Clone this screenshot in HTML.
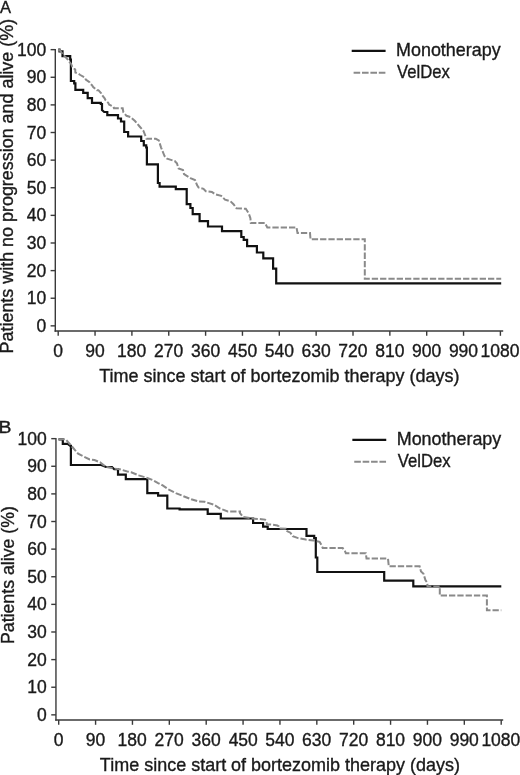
<!DOCTYPE html>
<html><head><meta charset="utf-8"><style>
html,body{margin:0;padding:0;background:#fff;}
svg{display:block;will-change:transform;filter:blur(0.35px);}
text{font-family:"Liberation Sans", sans-serif;stroke:#1a1a1a;stroke-width:0.35px;}
</style></head><body>
<svg width="520" height="775" viewBox="0 0 520 775">
<rect width="520" height="775" fill="#fff"/>
<line x1="55.30" y1="48.95" x2="55.30" y2="331.70" stroke="#3a3a3a" stroke-width="1.4"/>
<line x1="54.60" y1="331.00" x2="503.20" y2="331.00" stroke="#3a3a3a" stroke-width="1.4"/>
<line x1="50.60" y1="325.85" x2="55.30" y2="325.85" stroke="#3a3a3a" stroke-width="1.4"/>
<text x="36.40" y="331.95" font-size="17.5" textLength="9.73" lengthAdjust="spacingAndGlyphs" fill="#1a1a1a" >0</text>
<line x1="50.60" y1="298.23" x2="55.30" y2="298.23" stroke="#3a3a3a" stroke-width="1.4"/>
<text x="26.69" y="304.33" font-size="17.5" textLength="19.47" lengthAdjust="spacingAndGlyphs" fill="#1a1a1a" >10</text>
<line x1="50.60" y1="270.61" x2="55.30" y2="270.61" stroke="#3a3a3a" stroke-width="1.4"/>
<text x="26.69" y="276.71" font-size="17.5" textLength="19.47" lengthAdjust="spacingAndGlyphs" fill="#1a1a1a" >20</text>
<line x1="50.60" y1="242.99" x2="55.30" y2="242.99" stroke="#3a3a3a" stroke-width="1.4"/>
<text x="26.69" y="249.09" font-size="17.5" textLength="19.47" lengthAdjust="spacingAndGlyphs" fill="#1a1a1a" >30</text>
<line x1="50.60" y1="215.37" x2="55.30" y2="215.37" stroke="#3a3a3a" stroke-width="1.4"/>
<text x="26.69" y="221.47" font-size="17.5" textLength="19.47" lengthAdjust="spacingAndGlyphs" fill="#1a1a1a" >40</text>
<line x1="50.60" y1="187.75" x2="55.30" y2="187.75" stroke="#3a3a3a" stroke-width="1.4"/>
<text x="26.69" y="193.85" font-size="17.5" textLength="19.47" lengthAdjust="spacingAndGlyphs" fill="#1a1a1a" >50</text>
<line x1="50.60" y1="160.13" x2="55.30" y2="160.13" stroke="#3a3a3a" stroke-width="1.4"/>
<text x="26.69" y="166.23" font-size="17.5" textLength="19.47" lengthAdjust="spacingAndGlyphs" fill="#1a1a1a" >60</text>
<line x1="50.60" y1="132.51" x2="55.30" y2="132.51" stroke="#3a3a3a" stroke-width="1.4"/>
<text x="26.69" y="138.61" font-size="17.5" textLength="19.47" lengthAdjust="spacingAndGlyphs" fill="#1a1a1a" >70</text>
<line x1="50.60" y1="104.89" x2="55.30" y2="104.89" stroke="#3a3a3a" stroke-width="1.4"/>
<text x="26.69" y="110.99" font-size="17.5" textLength="19.47" lengthAdjust="spacingAndGlyphs" fill="#1a1a1a" >80</text>
<line x1="50.60" y1="77.27" x2="55.30" y2="77.27" stroke="#3a3a3a" stroke-width="1.4"/>
<text x="26.69" y="83.37" font-size="17.5" textLength="19.47" lengthAdjust="spacingAndGlyphs" fill="#1a1a1a" >90</text>
<line x1="50.60" y1="49.65" x2="55.30" y2="49.65" stroke="#3a3a3a" stroke-width="1.4"/>
<text x="16.98" y="55.75" font-size="17.5" textLength="29.20" lengthAdjust="spacingAndGlyphs" fill="#1a1a1a" >100</text>
<line x1="58.20" y1="331.00" x2="58.20" y2="335.80" stroke="#3a3a3a" stroke-width="1.4"/>
<text x="53.30" y="356.50" font-size="17.5" textLength="9.73" lengthAdjust="spacingAndGlyphs" fill="#1a1a1a" >0</text>
<line x1="95.05" y1="331.00" x2="95.05" y2="335.80" stroke="#3a3a3a" stroke-width="1.4"/>
<text x="85.25" y="356.50" font-size="17.5" textLength="19.47" lengthAdjust="spacingAndGlyphs" fill="#1a1a1a" >90</text>
<line x1="131.90" y1="331.00" x2="131.90" y2="335.80" stroke="#3a3a3a" stroke-width="1.4"/>
<text x="116.98" y="356.50" font-size="17.5" textLength="29.20" lengthAdjust="spacingAndGlyphs" fill="#1a1a1a" >180</text>
<line x1="168.75" y1="331.00" x2="168.75" y2="335.80" stroke="#3a3a3a" stroke-width="1.4"/>
<text x="154.05" y="356.50" font-size="17.5" textLength="29.20" lengthAdjust="spacingAndGlyphs" fill="#1a1a1a" >270</text>
<line x1="205.60" y1="331.00" x2="205.60" y2="335.80" stroke="#3a3a3a" stroke-width="1.4"/>
<text x="190.99" y="356.50" font-size="17.5" textLength="29.20" lengthAdjust="spacingAndGlyphs" fill="#1a1a1a" >360</text>
<line x1="242.45" y1="331.00" x2="242.45" y2="335.80" stroke="#3a3a3a" stroke-width="1.4"/>
<text x="228.01" y="356.50" font-size="17.5" textLength="29.20" lengthAdjust="spacingAndGlyphs" fill="#1a1a1a" >450</text>
<line x1="279.30" y1="331.00" x2="279.30" y2="335.80" stroke="#3a3a3a" stroke-width="1.4"/>
<text x="264.69" y="356.50" font-size="17.5" textLength="29.20" lengthAdjust="spacingAndGlyphs" fill="#1a1a1a" >540</text>
<line x1="316.15" y1="331.00" x2="316.15" y2="335.80" stroke="#3a3a3a" stroke-width="1.4"/>
<text x="301.45" y="356.50" font-size="17.5" textLength="29.20" lengthAdjust="spacingAndGlyphs" fill="#1a1a1a" >630</text>
<line x1="353.00" y1="331.00" x2="353.00" y2="335.80" stroke="#3a3a3a" stroke-width="1.4"/>
<text x="338.30" y="356.50" font-size="17.5" textLength="29.20" lengthAdjust="spacingAndGlyphs" fill="#1a1a1a" >720</text>
<line x1="389.85" y1="331.00" x2="389.85" y2="335.80" stroke="#3a3a3a" stroke-width="1.4"/>
<text x="375.19" y="356.50" font-size="17.5" textLength="29.20" lengthAdjust="spacingAndGlyphs" fill="#1a1a1a" >810</text>
<line x1="426.70" y1="331.00" x2="426.70" y2="335.80" stroke="#3a3a3a" stroke-width="1.4"/>
<text x="412.04" y="356.50" font-size="17.5" textLength="29.20" lengthAdjust="spacingAndGlyphs" fill="#1a1a1a" >900</text>
<line x1="463.55" y1="331.00" x2="463.55" y2="335.80" stroke="#3a3a3a" stroke-width="1.4"/>
<text x="448.89" y="356.50" font-size="17.5" textLength="29.20" lengthAdjust="spacingAndGlyphs" fill="#1a1a1a" >990</text>
<line x1="500.40" y1="331.00" x2="500.40" y2="335.80" stroke="#3a3a3a" stroke-width="1.4"/>
<text x="480.58" y="356.50" font-size="17.5" textLength="38.93" lengthAdjust="spacingAndGlyphs" fill="#1a1a1a" >1080</text>
<text x="99.24" y="382.20" font-size="17.9" textLength="360.16" lengthAdjust="spacingAndGlyphs" fill="#1a1a1a" >Time since start of bortezomib therapy (days)</text>
<text transform="translate(12.90,353.43) rotate(-90)" font-size="17.8" textLength="334.54" lengthAdjust="spacingAndGlyphs" fill="#1a1a1a">Patients with no progression and alive (%)</text>
<text x="0.00" y="12.60" font-size="17" textLength="11.03" lengthAdjust="spacingAndGlyphs" fill="#1a1a1a" >A</text>
<line x1="351.70" y1="50.80" x2="385.60" y2="50.80" stroke="#111" stroke-width="2.2"/>
<line x1="353.60" y1="72.70" x2="385.40" y2="72.70" stroke="#8a8a8a" stroke-width="2" stroke-dasharray="6.6 1.8"/>
<text x="396.07" y="56.00" font-size="17.9" textLength="104.57" lengthAdjust="spacingAndGlyphs" fill="#1a1a1a" >Monotherapy</text>
<text x="397.12" y="77.80" font-size="17.9" textLength="52.73" lengthAdjust="spacingAndGlyphs" fill="#1a1a1a" >VelDex</text>
<path d="M58.2,49.6 H59.5 V51.3 H62.5 V56.2 H70.2 V59.5 H70.9 V81 H74.2 V83.4 H75.4 V89.8 H83.2 V92.8 H87.7 V98.1 H92 V102.9 H100.8 V104 H102 V110 L104.2,112 H107.3 V115.2 H118 V118.5 H121 V121.5 H124.2 V132 H128.1 V136.5 H141.2 V141 H143.8 V145.4 H146.2 V147.5 H146.9 V164.4 H157.9 V183 H159.6 V186.7 H175.8 V189.2 H186.7 V204.2 H190.4 V208 H192.7 V214.2 H199.6 V221.2 H208 V226.5 H222 V231.2 H241.3 V237 H243.7 V239.8 H247.1 V246.1 H256.9 V252.5 H263.3 V258.3 H273.1 V268.6 H276.2 V283.3 H501.2" fill="none" stroke="#111" stroke-width="2.2" stroke-linejoin="miter"/>
<path d="M58.2,49.6 L59.8,50.3 L61.7,52.9 L63.9,55.6 L66,57.5 L68,59.8 L69.4,61.8 L71,63.7 L72.3,66.8 L74,68.5 L75.2,69.5 L75.4,72.6 L78.5,73.8 L80.3,75 L85.2,77.8 L85.8,79.7 L89.5,82.2 L90.2,83.7 L92,85.2 L93.2,87 L96.9,90.2 H98.4 L101.2,93.3 L101.8,94.8 L104.8,98.5 L105.2,99.8 L108.2,102.8 L109.2,104.7 L113.5,106.8 L114,108.3 H122.7 L123.3,112 L126.5,115.8 L130.4,117 L135,121 L139.6,126.5 L143.5,131 L146.5,138.8 H155.8 L158.8,140.4 L161,147.3 L164.5,156 L167.1,158.7 L174.6,161 L176.9,163.3 L178.6,168.5 L183,170 L184,174 L190.4,178.1 L195,180 L197,185 L198.5,187.5 L203.5,188.8 L205.8,191.2 L211.9,191.9 L215,194.2 L221.2,195.8 L225,199.6 L230.4,201.2 L233.5,204.2 L236.5,208.3 L245.8,208.8 L248.8,213.5 L250.4,218.1 L250.8,223.1 H265 L267.3,227.4 H296.5 L297.5,233 H310 L310.5,239.2 H364.8 V278.8 H501.2" fill="none" stroke="#8a8a8a" stroke-width="2" stroke-dasharray="6.3 2"/>
<line x1="55.95" y1="437.95" x2="55.95" y2="720.70" stroke="#3a3a3a" stroke-width="1.4"/>
<line x1="55.25" y1="720.00" x2="503.20" y2="720.00" stroke="#3a3a3a" stroke-width="1.4"/>
<line x1="51.25" y1="714.85" x2="55.95" y2="714.85" stroke="#3a3a3a" stroke-width="1.4"/>
<text x="37.05" y="720.95" font-size="17.5" textLength="9.73" lengthAdjust="spacingAndGlyphs" fill="#1a1a1a" >0</text>
<line x1="51.25" y1="687.23" x2="55.95" y2="687.23" stroke="#3a3a3a" stroke-width="1.4"/>
<text x="27.34" y="693.33" font-size="17.5" textLength="19.47" lengthAdjust="spacingAndGlyphs" fill="#1a1a1a" >10</text>
<line x1="51.25" y1="659.61" x2="55.95" y2="659.61" stroke="#3a3a3a" stroke-width="1.4"/>
<text x="27.34" y="665.71" font-size="17.5" textLength="19.47" lengthAdjust="spacingAndGlyphs" fill="#1a1a1a" >20</text>
<line x1="51.25" y1="631.99" x2="55.95" y2="631.99" stroke="#3a3a3a" stroke-width="1.4"/>
<text x="27.34" y="638.09" font-size="17.5" textLength="19.47" lengthAdjust="spacingAndGlyphs" fill="#1a1a1a" >30</text>
<line x1="51.25" y1="604.37" x2="55.95" y2="604.37" stroke="#3a3a3a" stroke-width="1.4"/>
<text x="27.34" y="610.47" font-size="17.5" textLength="19.47" lengthAdjust="spacingAndGlyphs" fill="#1a1a1a" >40</text>
<line x1="51.25" y1="576.75" x2="55.95" y2="576.75" stroke="#3a3a3a" stroke-width="1.4"/>
<text x="27.34" y="582.85" font-size="17.5" textLength="19.47" lengthAdjust="spacingAndGlyphs" fill="#1a1a1a" >50</text>
<line x1="51.25" y1="549.13" x2="55.95" y2="549.13" stroke="#3a3a3a" stroke-width="1.4"/>
<text x="27.34" y="555.23" font-size="17.5" textLength="19.47" lengthAdjust="spacingAndGlyphs" fill="#1a1a1a" >60</text>
<line x1="51.25" y1="521.51" x2="55.95" y2="521.51" stroke="#3a3a3a" stroke-width="1.4"/>
<text x="27.34" y="527.61" font-size="17.5" textLength="19.47" lengthAdjust="spacingAndGlyphs" fill="#1a1a1a" >70</text>
<line x1="51.25" y1="493.89" x2="55.95" y2="493.89" stroke="#3a3a3a" stroke-width="1.4"/>
<text x="27.34" y="499.99" font-size="17.5" textLength="19.47" lengthAdjust="spacingAndGlyphs" fill="#1a1a1a" >80</text>
<line x1="51.25" y1="466.27" x2="55.95" y2="466.27" stroke="#3a3a3a" stroke-width="1.4"/>
<text x="27.34" y="472.37" font-size="17.5" textLength="19.47" lengthAdjust="spacingAndGlyphs" fill="#1a1a1a" >90</text>
<line x1="51.25" y1="438.65" x2="55.95" y2="438.65" stroke="#3a3a3a" stroke-width="1.4"/>
<text x="17.62" y="444.75" font-size="17.5" textLength="29.20" lengthAdjust="spacingAndGlyphs" fill="#1a1a1a" >100</text>
<line x1="58.70" y1="720.00" x2="58.70" y2="724.80" stroke="#3a3a3a" stroke-width="1.4"/>
<text x="53.80" y="745.50" font-size="17.5" textLength="9.73" lengthAdjust="spacingAndGlyphs" fill="#1a1a1a" >0</text>
<line x1="95.58" y1="720.00" x2="95.58" y2="724.80" stroke="#3a3a3a" stroke-width="1.4"/>
<text x="85.78" y="745.50" font-size="17.5" textLength="19.47" lengthAdjust="spacingAndGlyphs" fill="#1a1a1a" >90</text>
<line x1="132.45" y1="720.00" x2="132.45" y2="724.80" stroke="#3a3a3a" stroke-width="1.4"/>
<text x="117.53" y="745.50" font-size="17.5" textLength="29.20" lengthAdjust="spacingAndGlyphs" fill="#1a1a1a" >180</text>
<line x1="169.32" y1="720.00" x2="169.32" y2="724.80" stroke="#3a3a3a" stroke-width="1.4"/>
<text x="154.62" y="745.50" font-size="17.5" textLength="29.20" lengthAdjust="spacingAndGlyphs" fill="#1a1a1a" >270</text>
<line x1="206.20" y1="720.00" x2="206.20" y2="724.80" stroke="#3a3a3a" stroke-width="1.4"/>
<text x="191.59" y="745.50" font-size="17.5" textLength="29.20" lengthAdjust="spacingAndGlyphs" fill="#1a1a1a" >360</text>
<line x1="243.07" y1="720.00" x2="243.07" y2="724.80" stroke="#3a3a3a" stroke-width="1.4"/>
<text x="228.64" y="745.50" font-size="17.5" textLength="29.20" lengthAdjust="spacingAndGlyphs" fill="#1a1a1a" >450</text>
<line x1="279.95" y1="720.00" x2="279.95" y2="724.80" stroke="#3a3a3a" stroke-width="1.4"/>
<text x="265.34" y="745.50" font-size="17.5" textLength="29.20" lengthAdjust="spacingAndGlyphs" fill="#1a1a1a" >540</text>
<line x1="316.82" y1="720.00" x2="316.82" y2="724.80" stroke="#3a3a3a" stroke-width="1.4"/>
<text x="302.12" y="745.50" font-size="17.5" textLength="29.20" lengthAdjust="spacingAndGlyphs" fill="#1a1a1a" >630</text>
<line x1="353.70" y1="720.00" x2="353.70" y2="724.80" stroke="#3a3a3a" stroke-width="1.4"/>
<text x="339.00" y="745.50" font-size="17.5" textLength="29.20" lengthAdjust="spacingAndGlyphs" fill="#1a1a1a" >720</text>
<line x1="390.57" y1="720.00" x2="390.57" y2="724.80" stroke="#3a3a3a" stroke-width="1.4"/>
<text x="375.92" y="745.50" font-size="17.5" textLength="29.20" lengthAdjust="spacingAndGlyphs" fill="#1a1a1a" >810</text>
<line x1="427.45" y1="720.00" x2="427.45" y2="724.80" stroke="#3a3a3a" stroke-width="1.4"/>
<text x="412.79" y="745.50" font-size="17.5" textLength="29.20" lengthAdjust="spacingAndGlyphs" fill="#1a1a1a" >900</text>
<line x1="464.32" y1="720.00" x2="464.32" y2="724.80" stroke="#3a3a3a" stroke-width="1.4"/>
<text x="449.67" y="745.50" font-size="17.5" textLength="29.20" lengthAdjust="spacingAndGlyphs" fill="#1a1a1a" >990</text>
<line x1="501.20" y1="720.00" x2="501.20" y2="724.80" stroke="#3a3a3a" stroke-width="1.4"/>
<text x="481.38" y="745.50" font-size="17.5" textLength="38.93" lengthAdjust="spacingAndGlyphs" fill="#1a1a1a" >1080</text>
<text x="99.89" y="771.20" font-size="17.9" textLength="360.16" lengthAdjust="spacingAndGlyphs" fill="#1a1a1a" >Time since start of bortezomib therapy (days)</text>
<text transform="translate(13.55,644.02) rotate(-90)" font-size="17.8" textLength="137.90" lengthAdjust="spacingAndGlyphs" fill="#1a1a1a">Patients alive (%)</text>
<text x="-1.56" y="432.90" font-size="17" textLength="12.97" lengthAdjust="spacingAndGlyphs" fill="#1a1a1a" >B</text>
<line x1="352.35" y1="439.80" x2="386.25" y2="439.80" stroke="#111" stroke-width="2.2"/>
<line x1="354.25" y1="461.70" x2="386.05" y2="461.70" stroke="#8a8a8a" stroke-width="2" stroke-dasharray="6.6 1.8"/>
<text x="396.72" y="445.00" font-size="17.9" textLength="104.57" lengthAdjust="spacingAndGlyphs" fill="#1a1a1a" >Monotherapy</text>
<text x="397.77" y="466.80" font-size="17.9" textLength="52.73" lengthAdjust="spacingAndGlyphs" fill="#1a1a1a" >VelDex</text>
<path d="M58.5,439.3 H62.8 V443.8 H67.7 L70.3,445.8 H70.9 V465 H101.2 L106,467 H112 L114.2,469.2 H118 V474.6 H125.8 V479.2 H147.3 V493.1 H158.1 V495.7 H167.3 V508.5 H179.6 V509.3 H207.7 V513.8 H220.8 V518.5 H253.1 V523 H263.1 V526.6 H267.7 V529 H306.5 V535.8 H314.2 V538.1 H315.8 V557.5 H317.3 V572 H384.2 V580.6 H413.3 V586.4 H501.3" fill="none" stroke="#111" stroke-width="2.2" stroke-linejoin="miter"/>
<path d="M58.5,439.2 H65.6 L68,442 L70.4,444.6 L72.8,447.5 L75.2,450.3 L78.1,453.7 L81.5,455.4 L84.8,457.1 L89.7,459.5 L94.5,460 L100.2,462.4 L105.8,466.9 L113.5,468.5 L119.6,469.2 L127.3,471.5 L131.2,472.3 L138.8,475.4 L146.5,477.7 L152.7,480 L158.1,483.1 L162.7,485.4 L168.1,489.2 L175.8,493.1 L183.5,496.2 L191.2,499.2 L198.8,501.5 L204.6,501.8 L213.8,504.6 L220,508.5 L227.7,511.5 H240 V513.1 L243.1,516.9 L252.3,518.5 L261.5,519.2 L265,519.6 L266.2,520.8 L266.9,524.2 L271.2,524.6 L277.3,525.4 L278.8,526.5 L279.6,528.5 L285.8,528.8 L286.5,530.8 L290.4,532.7 L292.7,536.2 L298.1,538.1 L305.8,539.6 L313.5,540.4 L319.6,541.9 L321.9,545.8 L322.7,548.1 H342.7 L345,551.2 L345.8,553.2 H365.8 L366.5,558.5 H388 L388.8,566.3 H419.6 L421,571.5 L423.5,573.8 L425.4,580 L427.3,583 L427.5,586.4 H439.8 V595.6 H486.9 V610.2 H501.3" fill="none" stroke="#8a8a8a" stroke-width="2" stroke-dasharray="6.3 2"/>
</svg>
</body></html>
